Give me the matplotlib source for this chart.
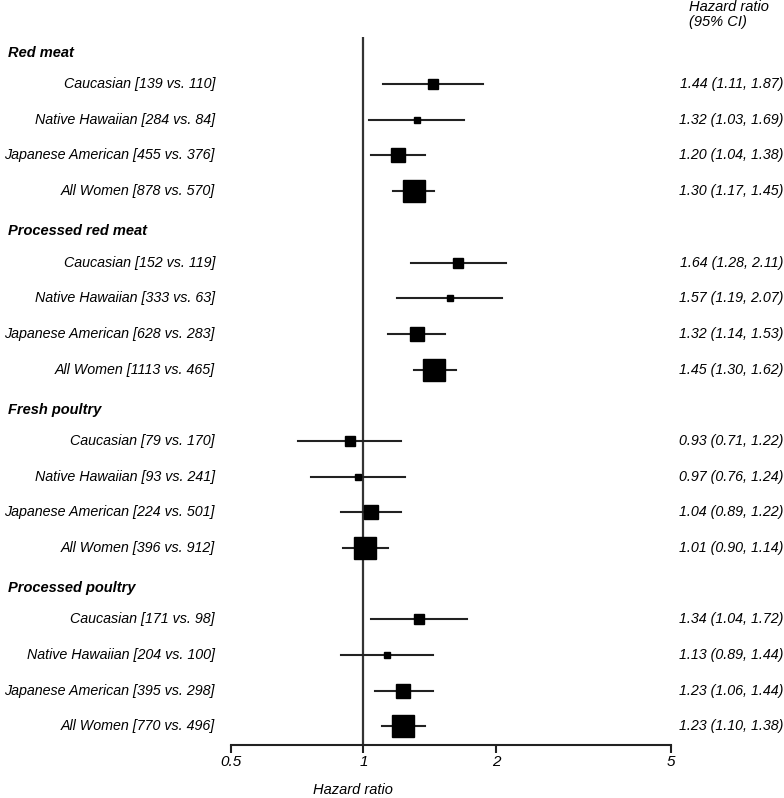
import numpy as np
import matplotlib
matplotlib.use('Agg')
import matplotlib.pyplot as plt

plt.rcParams['font.family'] = ['Liberation Sans', 'DejaVu Sans']

# 데이터
groups = ["Red meat", "Processed red meat", "Fresh poultry", "Processed poultry"]
populations = ["Caucasian", "Native Hawaiian", "Japanese American", "All Women"]

counts = [
    ["139 vs. 110", "284 vs. 84", "455 vs. 376", "878 vs. 570"],
    ["152 vs. 119", "333 vs. 63", "628 vs. 283", "1113 vs. 465"],
    ["79 vs. 170", "93 vs. 241", "224 vs. 501", "396 vs. 912"],
    ["171 vs. 98", "204 vs. 100", "395 vs. 298", "770 vs. 496"],
]
hr = [
    [1.44, 1.32, 1.20, 1.30],
    [1.64, 1.57, 1.32, 1.45],
    [0.93, 0.97, 1.04, 1.01],
    [1.34, 1.13, 1.23, 1.23],
]
ci_low = [
    [1.11, 1.03, 1.04, 1.17],
    [1.28, 1.19, 1.14, 1.30],
    [0.71, 0.76, 0.89, 0.90],
    [1.04, 0.89, 1.06, 1.10],
]
ci_high = [
    [1.87, 1.69, 1.38, 1.45],
    [2.11, 2.07, 1.53, 1.62],
    [1.22, 1.24, 1.22, 1.14],
    [1.72, 1.44, 1.44, 1.38],
]
x_ticks = [0.5, 1, 2, 5]

# 마커 크기 (population 별)
marker_size = [7.4, 5.0, 9.4, 15.2]

W, H = 784, 798
ax_x0, ax_w = 231, 440

def ax_frac(px):
    # 그림 픽셀 x -> axes 비율
    return (px - ax_x0) / ax_w

fig = plt.figure(figsize=(W / 100, H / 100), dpi=100)
ax = fig.add_axes([ax_x0 / W, 1 - 745 / H, ax_w / W, 708 / H])
trans = ax.get_yaxis_transform()

for g, grp in enumerate(groups):
    base = g * 5
    # 그룹 제목
    ax.text(ax_frac(8), base + 0.12, grp, transform=trans,
            fontsize=10.5, fontweight='bold', fontstyle='italic', ha='left', va='center')
    for j, pop in enumerate(populations):
        y = base + j + 1
        ax.plot([ci_low[g][j], ci_high[g][j]], [y, y], color='#222222', lw=1.5, zorder=2)
        ax.plot(hr[g][j], y, marker='s', ms=marker_size[j], color='black', zorder=3, lw=0)
        ax.text(ax_frac(215), y, f"{pop} [{counts[g][j]}]", transform=trans, fontsize=10.3,
                fontstyle='italic', ha='right', va='center')
        ax.text(ax_frac(783), y, f"{hr[g][j]:.2f} ({ci_low[g][j]:.2f}, {ci_high[g][j]:.2f})",
                transform=trans, fontsize=10.3, fontstyle='italic', ha='right', va='center')

ax.axvline(1, color='#333333', lw=1.6, zorder=1)

ax.set_xscale('log')
ax.set_xlim(0.5, 5)
ax.set_ylim(19.52, -0.32)
ax.set_xticks(x_ticks)
ax.set_xticklabels([str(t) for t in x_ticks], fontstyle='italic', fontsize=11)
ax.minorticks_off()
ax.set_yticks([])
for s in ['top', 'right', 'left']:
    ax.spines[s].set_visible(False)
ax.spines['bottom'].set_linewidth(1.5)
ax.spines['bottom'].set_color('#222222')
ax.tick_params(axis='x', direction='out', length=6, width=1.5, color='#222222', pad=1)

fig.text(353 / W, 1 - 790 / H, "Hazard ratio", fontsize=10.5, fontstyle='italic',
         ha='center', va='center')
fig.text(689 / W, 1 - 0 / H, "Hazard ratio\n(95% CI)", fontsize=10.5, fontstyle='italic',
         ha='left', va='top', linespacing=1.1)

plt.savefig('out.png', dpi=100)
